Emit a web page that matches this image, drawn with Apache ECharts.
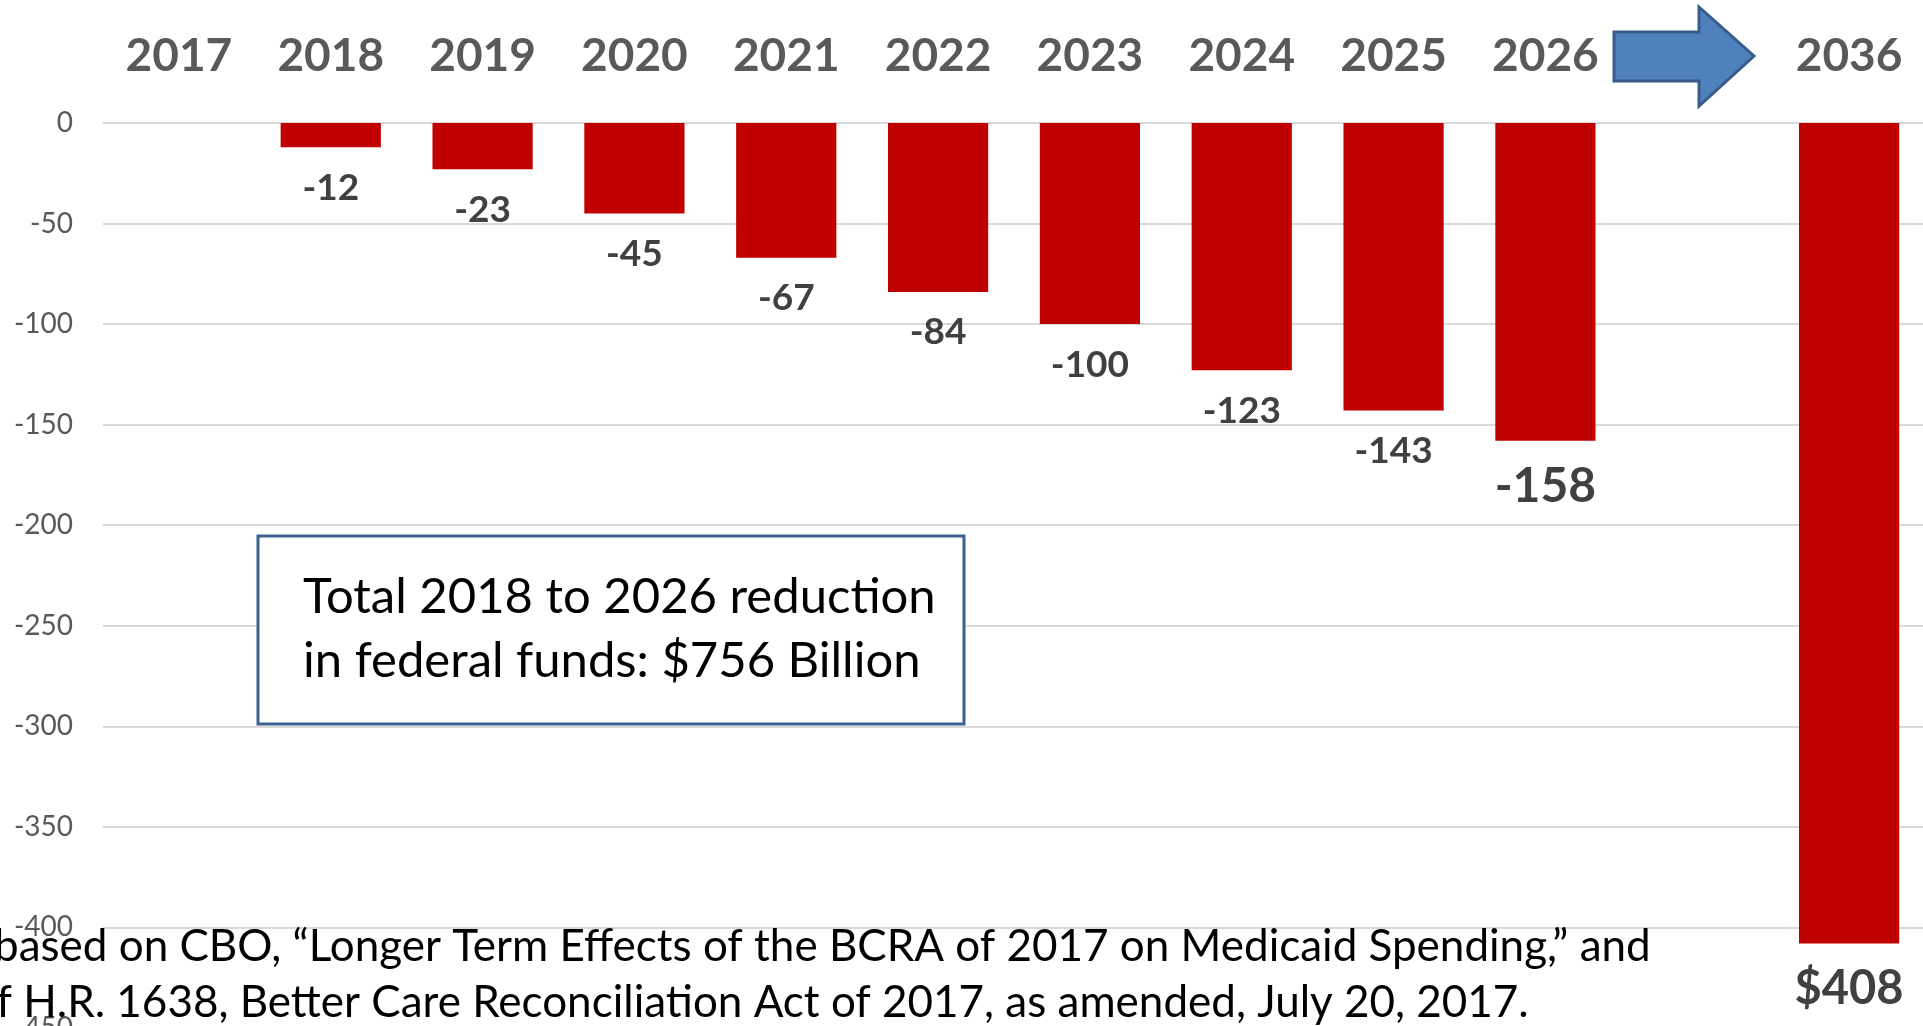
<!DOCTYPE html>
<html>
<head>
<meta charset="utf-8">
<script src="https://cdn.jsdelivr.net/npm/echarts@6/dist/echarts.min.js"></script>
<style>
  html, body { margin: 0; padding: 0; background: #fff; overflow: hidden; }
  #chart { width: 1923px; height: 1026px; }
</style>
</head>
<body>
<div id="chart"></div>
<script>
// Annual change in federal Medicaid funds (billions of dollars)
const years = ['2017', '2018', '2019', '2020', '2021', '2022', '2023', '2024', '2025', '2026', '', '2036'];
const reductions = [null, -12, -23, -45, -67, -84, -100, -123, -143, -158, null, -408];
const yTicks = { min: -450, max: 0, step: 50 };
const summaryLines = ['Total 2018 to 2026 reduction', 'in federal funds: $756 Billion'];
const sourceLines = [
  'based on CBO, \u201cLonger Term Effects of the BCRA of 2017 on Medicaid Spending,\u201d and',
  'of H.R. 1638, Better Care Reconciliation Act of 2017, as amended, July 20, 2017.'
];

const FONT = 'Lato, "Noto Sans", sans-serif';
const lastIdx = years.length - 1;
const highlightIdx = years.indexOf('2026');

const barData = reductions.map((v, i) => {
  if (v === null) return '-';
  const item = { value: v };
  if (i === highlightIdx) item.label = { fontSize: 48 };
  if (i === lastIdx) item.label = { fontSize: 47 };
  return item;
});

const chart = echarts.init(document.getElementById('chart'));
chart.setOption({
  animation: false,
  backgroundColor: '#ffffff',
  grid: { left: 103, top: 123, width: 1822, height: 905, outerBoundsMode: 'none', containLabel: false },
  xAxis: {
    type: 'category',
    position: 'top',
    data: years,
    axisLine: { show: false },
    axisTick: { show: false },
    axisLabel: {
      interval: 0,
      margin: 44,
      color: '#595959',
      fontFamily: FONT,
      fontWeight: 'bold',
      fontSize: 46
    }
  },
  yAxis: {
    type: 'value',
    min: yTicks.min,
    max: yTicks.max,
    interval: yTicks.step,
    axisLine: { show: false },
    axisTick: { show: false },
    axisLabel: { margin: 30, color: '#595959', fontFamily: FONT, fontSize: 28 },
    splitLine: { lineStyle: { color: '#d9d9d9', width: 2 } }
  },
  series: [{
    type: 'bar',
    data: barData,
    barCategoryGap: '34%',
    itemStyle: { color: '#c00000' },
    label: {
      show: true,
      position: 'bottom',
      distance: 22,
      color: '#404040',
      fontFamily: FONT,
      fontWeight: 'bold',
      fontSize: 37,
      formatter: p => p.dataIndex === lastIdx ? '$' + Math.abs(p.value) : String(p.value)
    }
  }],
  graphic: [
    // arrow bridging the gap between 2026 and 2036
    {
      type: 'polygon',
      shape: { points: [[1614, 32], [1699, 32], [1699, 7], [1754, 56], [1699, 106], [1699, 81], [1614, 81]] },
      style: { fill: '#4f81bd', stroke: '#385d8a', lineWidth: 3 },
      z: 10
    },
    // summary box
    {
      type: 'rect',
      shape: { x: 258, y: 536, width: 706, height: 188 },
      style: { fill: '#ffffff', stroke: '#3b6091', lineWidth: 3 },
      z: 10
    },
    {
      type: 'text',
      x: 303, y: 597,
      style: { text: summaryLines[0], fill: '#000', font: '49px ' + FONT, verticalAlign: 'middle' },
      z: 11
    },
    {
      type: 'text',
      x: 303, y: 661,
      style: { text: summaryLines[1], fill: '#000', font: '49px ' + FONT, verticalAlign: 'middle' },
      z: 11
    },
    // source note
    {
      type: 'text',
      x: -6, y: 947,
      style: { text: sourceLines[0], fill: '#000', font: '44px ' + FONT, verticalAlign: 'middle' },
      z: 11
    },
    {
      type: 'text',
      x: -28, y: 1003,
      style: { text: sourceLines[1], fill: '#000', font: '44px ' + FONT, verticalAlign: 'middle' },
      z: 11
    }
  ]
});
</script>
</body>
</html>
